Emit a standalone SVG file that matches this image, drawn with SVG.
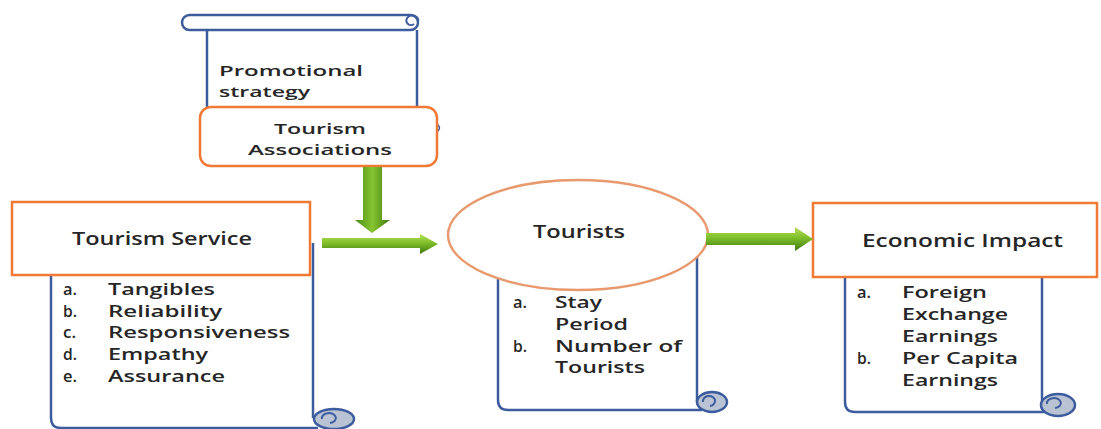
<svg xmlns="http://www.w3.org/2000/svg" width="1101" height="429" viewBox="0 0 1101 429">
<defs>
<linearGradient id="gh" x1="0" y1="0" x2="0" y2="1">
<stop offset="0" stop-color="#b6e05a"/><stop offset="0.45" stop-color="#7fbf2a"/><stop offset="1" stop-color="#3f7a12"/>
</linearGradient>
<linearGradient id="gv" x1="0" y1="0" x2="1" y2="0">
<stop offset="0" stop-color="#4a8a18"/><stop offset="0.5" stop-color="#86c530"/><stop offset="1" stop-color="#3f7a12"/>
</linearGradient>
<style>
.scroll{fill:#ffffff;stroke:#3d5c9e;stroke-width:2.5}
.curl{fill:#b9c3d3;stroke:#3d5c9e;stroke-width:2.5}
.box{fill:#ffffff;stroke:#f07a35;stroke-width:2.5}
.ell{fill:#ffffff;stroke:#e89a6e;stroke-width:2.5}
.t{font-family:"Open Sans","Liberation Sans",sans-serif;font-weight:600;fill:#262626}
.h{font-size:18px}
.l{font-size:16px}
.m{font-size:15px}
</style>
</defs>
<rect x="0" y="0" width="1101" height="429" fill="#ffffff"/>

<g id="promotional-strategy">
<path class="scroll" d="M207,30 V110 M417,30 V110"/>
<rect class="scroll" x="182" y="15" width="236" height="15" rx="7.5"/>
<path d="M418,22 a6,5 0 1 0 -10,2 a4,3 0 0 0 6,0" fill="none" stroke="#3d5c9e" stroke-width="2"/>
<text class="t m" x="219" y="76" textLength="144" lengthAdjust="spacingAndGlyphs">Promotional</text>
<text class="t m" x="219" y="97" textLength="91" lengthAdjust="spacingAndGlyphs">strategy</text>
</g>

<g id="tourism-associations">
<path d="M437,124 q5,4 0,8" fill="none" stroke="#3d5c9e" stroke-width="1.5"/>
<rect class="box" x="200" y="107" width="237" height="59" rx="11"/>
<text class="t m" x="320" y="134" text-anchor="middle" textLength="92" lengthAdjust="spacingAndGlyphs">Tourism</text>
<text class="t m" x="248" y="155" textLength="144" lengthAdjust="spacingAndGlyphs">Associations</text>
</g>

<g id="tourism-service">
<path class="scroll" d="M51,275 V418 Q51,428 61,428 H318 M313,243 V418"/>
<ellipse class="curl" cx="334" cy="419" rx="20" ry="10"/>
<path d="M322,419 a7,5 0 1 1 8,4" fill="none" stroke="#3d5c9e" stroke-width="2"/>
<rect class="box" x="12" y="202" width="298" height="73"/>
<text class="t h" x="72" y="245" textLength="180" lengthAdjust="spacingAndGlyphs">Tourism Service</text>
<text class="t l" x="63" y="295" textLength="14" lengthAdjust="spacingAndGlyphs">a.</text><text class="t l" x="108" y="295" textLength="107" lengthAdjust="spacingAndGlyphs">Tangibles</text>
<text class="t l" x="63" y="317" textLength="14" lengthAdjust="spacingAndGlyphs">b.</text><text class="t l" x="108" y="317" textLength="114" lengthAdjust="spacingAndGlyphs">Reliability</text>
<text class="t l" x="63" y="338" textLength="13" lengthAdjust="spacingAndGlyphs">c.</text><text class="t l" x="108" y="338" textLength="182" lengthAdjust="spacingAndGlyphs">Responsiveness</text>
<text class="t l" x="63" y="360" textLength="14" lengthAdjust="spacingAndGlyphs">d.</text><text class="t l" x="108" y="360" textLength="100" lengthAdjust="spacingAndGlyphs">Empathy</text>
<text class="t l" x="63" y="382" textLength="14" lengthAdjust="spacingAndGlyphs">e.</text><text class="t l" x="108" y="382" textLength="117" lengthAdjust="spacingAndGlyphs">Assurance</text>
</g>

<g id="tourists">
<path class="scroll" d="M498,272 V400 Q498,410 508,410 H702 M697,255 V402"/>
<ellipse class="curl" cx="712" cy="402" rx="15" ry="10"/>
<path d="M703,402 a6,5 0 1 1 7,4" fill="none" stroke="#3d5c9e" stroke-width="2"/>
<ellipse class="ell" cx="578" cy="235" rx="130" ry="55"/>
<text class="t h" x="533" y="238" textLength="92" lengthAdjust="spacingAndGlyphs">Tourists</text>
<text class="t l" x="513" y="308" textLength="14" lengthAdjust="spacingAndGlyphs">a.</text><text class="t l" x="555" y="308" textLength="47" lengthAdjust="spacingAndGlyphs">Stay</text>
<text class="t l" x="555" y="330" textLength="73" lengthAdjust="spacingAndGlyphs">Period</text>
<text class="t l" x="513" y="352" textLength="14" lengthAdjust="spacingAndGlyphs">b.</text><text class="t l" x="555" y="352" textLength="127" lengthAdjust="spacingAndGlyphs">Number of</text>
<text class="t l" x="555" y="373" textLength="90" lengthAdjust="spacingAndGlyphs">Tourists</text>
</g>

<g id="economic-impact">
<path class="scroll" d="M845,277 V402 Q845,412 855,412 H1048 M1042,277 V404"/>
<ellipse class="curl" cx="1058" cy="405" rx="17" ry="11"/>
<path d="M1047,404 a7,5 0 1 1 8,4" fill="none" stroke="#3d5c9e" stroke-width="2"/>
<rect class="box" x="813" y="203" width="284" height="74"/>
<text class="t h" x="862" y="247" textLength="201" lengthAdjust="spacingAndGlyphs">Economic Impact</text>
<text class="t l" x="857" y="298" textLength="14" lengthAdjust="spacingAndGlyphs">a.</text><text class="t l" x="902" y="298" textLength="85" lengthAdjust="spacingAndGlyphs">Foreign</text>
<text class="t l" x="902" y="320" textLength="106" lengthAdjust="spacingAndGlyphs">Exchange</text>
<text class="t l" x="902" y="342" textLength="96" lengthAdjust="spacingAndGlyphs">Earnings</text>
<text class="t l" x="857" y="364" textLength="14" lengthAdjust="spacingAndGlyphs">b.</text><text class="t l" x="902" y="364" textLength="116" lengthAdjust="spacingAndGlyphs">Per Capita</text>
<text class="t l" x="902" y="386" textLength="96" lengthAdjust="spacingAndGlyphs">Earnings</text>
</g>

<g id="connectors">
<path d="M363,167 H382 V220 H390 L372,233 L355,220 H363 Z" fill="url(#gv)"/>
<path d="M322,238 H420 V234 L438,244 L420,254 V248 H322 Z" fill="url(#gh)"/>
<path d="M706,233 H795 V227 L813,239 L795,251 V245 H706 Z" fill="url(#gh)"/>
</g>
</svg>
